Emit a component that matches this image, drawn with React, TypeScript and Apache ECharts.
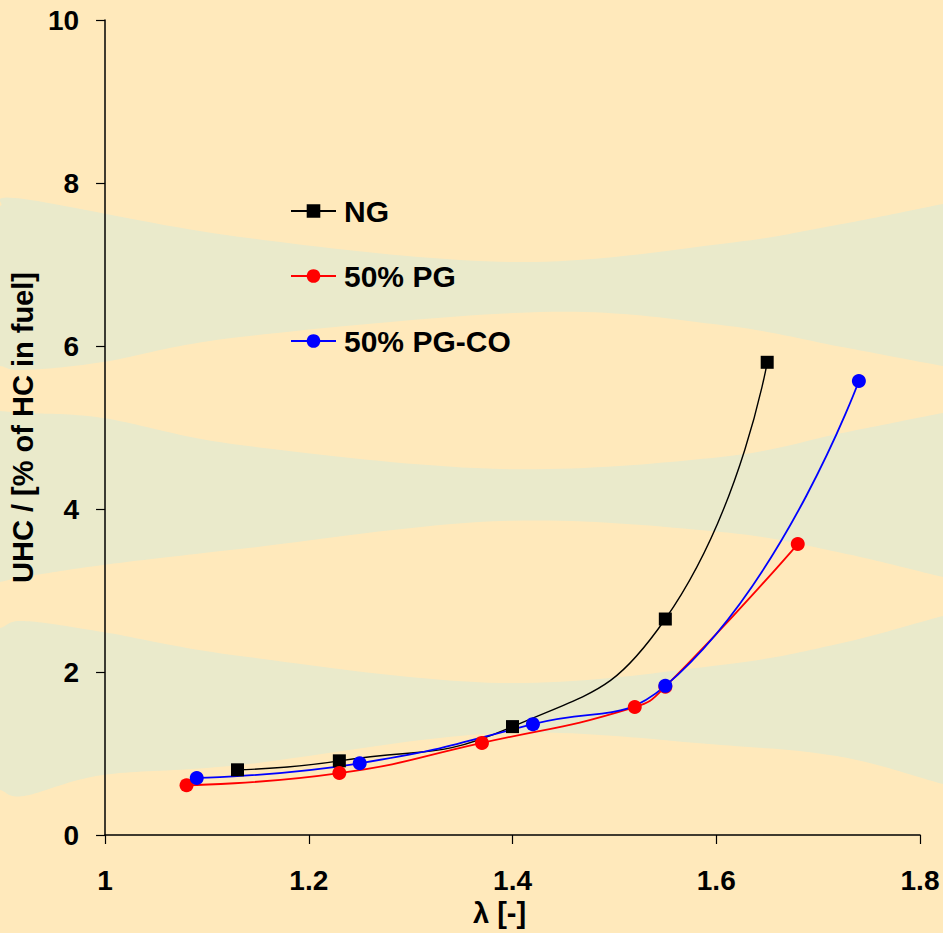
import React, { useEffect, useRef } from "react";
import * as echarts from "echarts";

// ---- data ----
const ngX = [1.13, 1.23, 1.4, 1.55, 1.65];
const ngY = [0.8, 0.91, 1.33, 2.65, 5.8];
const pgX = [1.08, 1.23, 1.37, 1.52, 1.55, 1.68];
const pgY = [0.61, 0.76, 1.13, 1.57, 1.82, 3.57];
const pgcoX = [1.09, 1.25, 1.42, 1.55, 1.74];
const pgcoY = [0.7, 0.88, 1.36, 1.83, 5.57];
const seriesNames = ["NG", "50% PG", "50% PG-CO"];
const xAxisTitle = "λ [-]";
const yAxisTitle = "UHC / [% of HC in fuel]";

// ---- decorative background bands (pixel control points) ----
const band1Top = [[-20, 210], [0, 206], [24, 199], [240, 237], [511, 262], [721, 244], [842, 224], [943, 204], [963, 201]];
const band1Bot = [[-20, 364], [0, 366], [24, 370], [103, 362], [240, 337], [540, 312], [721, 325], [842, 347], [943, 366], [963, 368]];
const band2Top = [[-20, 410], [0, 411], [24, 413], [103, 418], [240, 445], [500, 469], [721, 457], [842, 433], [943, 413], [963, 410]];
const band2Bot = [[-20, 585], [0, 582], [24, 577], [103, 565], [240, 549], [500, 521], [721, 532], [842, 553], [943, 577], [963, 580]];
const band3Top = [[-20, 630], [0, 628], [24, 621], [103, 632], [240, 656], [500, 683], [721, 665], [842, 643], [943, 616], [963, 613]];
const band3Bot = [[-20, 788], [0, 790], [24, 796], [103, 775], [240, 765], [500, 733], [721, 745], [842, 757], [943, 784], [963, 787]];

const BEIGE = "#FFE9BB";
const GREEN = "#EAEACB";
const FONT = "'Liberation Sans', Arial, Helvetica, sans-serif";

function spline(pts: number[][], steps = 20): number[][] {
  const out: number[][] = [];
  for (let i = 0; i < pts.length - 1; i++) {
    const p0 = pts[Math.max(i - 1, 0)];
    const p1 = pts[i];
    const p2 = pts[i + 1];
    const p3 = pts[Math.min(i + 2, pts.length - 1)];
    for (let s = 0; s < steps; s++) {
      const t = s / steps;
      const t2 = t * t;
      const t3 = t2 * t;
      const f = (k: number) =>
        0.5 *
        (2 * p1[k] +
          (-p0[k] + p2[k]) * t +
          (2 * p0[k] - 5 * p1[k] + 4 * p2[k] - p3[k]) * t2 +
          (-p0[k] + 3 * p1[k] - 3 * p2[k] + p3[k]) * t3);
      out.push([f(0), f(1)]);
    }
  }
  out.push(pts[pts.length - 1]);
  return out;
}

function bandPolygon(top: number[][], bot: number[][]) {
  const pts = spline(top).concat(spline(bot).reverse());
  return {
    type: "polygon",
    z: -10,
    silent: true,
    shape: { points: pts },
    style: { fill: GREEN },
  };
}

export default function App() {
  const ref = useRef<HTMLDivElement>(null);
  useEffect(() => {
    if (!ref.current) return;
    const chart = echarts.init(ref.current, undefined, { renderer: "svg" });
    const zip = (xs: number[], ys: number[]) => xs.map((x, i) => [x, ys[i]]);
    chart.setOption({
      animation: false,
      backgroundColor: BEIGE,
      graphic: {
        elements: [
          bandPolygon(band1Top, band1Bot),
          bandPolygon(band2Top, band2Bot),
          bandPolygon(band3Top, band3Bot),
        ],
      },
      grid: { left: 103, right: 23, top: 20, bottom: 98 },
      legend: {
        data: seriesNames,
        orient: "vertical",
        left: 290,
        top: 196,
        padding: 0,
        itemGap: 35,
        itemWidth: 45,
        itemHeight: 17,
        selectedMode: false,
        textStyle: {
          fontFamily: FONT,
          fontWeight: "bold",
          fontSize: 30,
          color: "#000",
          padding: [0, 0, 0, 3],
        },
      },
      xAxis: {
        type: "value",
        min: 1,
        max: 1.8,
        interval: 0.2,
        name: xAxisTitle,
        nameLocation: "middle",
        nameGap: 62,
        nameTextStyle: {
          fontFamily: FONT,
          fontWeight: "bold",
          fontSize: 29,
          color: "#000",
          padding: [0, 26, 0, 0],
        },
        axisLine: { show: true, onZero: false, lineStyle: { color: "#000", width: 1.5 } },
        axisTick: { show: true, inside: false, length: 9, lineStyle: { color: "#000", width: 1.2 } },
        splitLine: { show: false },
        axisLabel: {
          margin: 31,
          fontFamily: FONT,
          fontWeight: "bold",
          fontSize: 28,
          color: "#000",
          formatter: (v: number) => String(Math.round(v * 10) / 10),
        },
      },
      yAxis: {
        type: "value",
        min: 0,
        max: 10,
        interval: 2,
        name: yAxisTitle,
        nameLocation: "middle",
        nameGap: 62,
        nameRotate: 90,
        nameTextStyle: {
          fontFamily: FONT,
          fontWeight: "bold",
          fontSize: 29,
          color: "#000",
        },
        axisLine: { show: true, onZero: false, lineStyle: { color: "#000", width: 1.5 } },
        axisTick: { show: true, inside: false, length: 9, lineStyle: { color: "#000", width: 1.2 } },
        splitLine: { show: false },
        axisLabel: {
          margin: 26,
          fontFamily: FONT,
          fontWeight: "bold",
          fontSize: 28,
          color: "#000",
        },
      },
      series: [
        {
          name: seriesNames[0],
          type: "line",
          data: zip(ngX, ngY),
          smooth: 0.5,
          symbol: "rect",
          symbolSize: 13,
          itemStyle: { color: "#000" },
          lineStyle: { color: "#000", width: 1.4 },
        },
        {
          name: seriesNames[1],
          type: "line",
          data: zip(pgX, pgY),
          smooth: 0.5,
          symbol: "circle",
          symbolSize: 14,
          itemStyle: { color: "#FF0000" },
          lineStyle: { color: "#FF0000", width: 1.8 },
        },
        {
          name: seriesNames[2],
          type: "line",
          data: zip(pgcoX, pgcoY),
          smooth: 0.5,
          symbol: "circle",
          symbolSize: 14,
          itemStyle: { color: "#0000FF" },
          lineStyle: { color: "#0000FF", width: 1.8 },
        },
      ],
    });
    return () => chart.dispose();
  }, []);
  return (
    <div
      ref={ref}
      style={{ position: "fixed", left: 0, top: 0, width: 943, height: 933 }}
    />
  );
}
